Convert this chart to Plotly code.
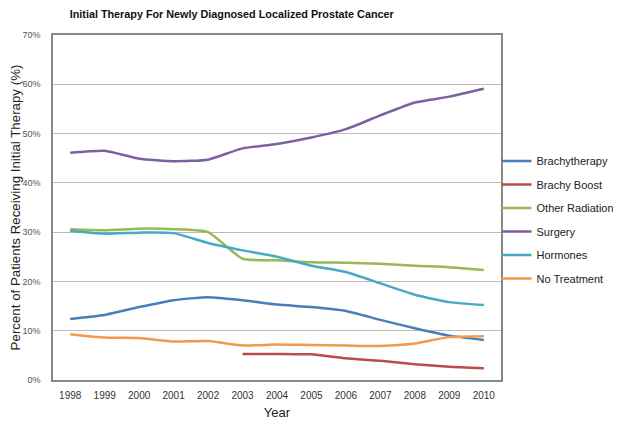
import plotly.graph_objects as go

years = ["1998", "1999", "2000", "2001", "2002", "2003", "2004", "2005", "2006", "2007", "2008", "2009", "2010"]
brachytherapy = [12.4, 13.2, 14.8, 16.2, 16.8, 16.2, 15.3, 14.8, 14.0, 12.2, 10.5, 9.0, 8.1]
brachy_boost = [None, None, None, None, None, 5.3, 5.3, 5.2, 4.4, 3.9, 3.2, 2.7, 2.4]
other_radiation = [30.6, 30.4, 30.7, 30.6, 30.0, 24.6, 24.3, 23.9, 23.8, 23.6, 23.2, 22.9, 22.3]
surgery = [46.1, 46.5, 44.9, 44.4, 44.7, 47.0, 47.9, 49.2, 50.9, 53.7, 56.3, 57.5, 59.1]
hormones = [30.3, 29.7, 29.9, 29.8, 27.8, 26.3, 25.0, 23.2, 21.9, 19.6, 17.3, 15.8, 15.2]
no_treatment = [9.3, 8.6, 8.5, 7.8, 7.9, 7.0, 7.2, 7.1, 7.0, 6.9, 7.4, 8.7, 8.9]

series = [
    ("Brachytherapy", brachytherapy, "#4A7EBB"),
    ("Brachy Boost", brachy_boost, "#BE4B48"),
    ("Other Radiation", other_radiation, "#98B954"),
    ("Surgery", surgery, "#7D60A0"),
    ("Hormones", hormones, "#46AAC5"),
    ("No Treatment", no_treatment, "#F39A4A"),
]

fig = go.Figure()
for name, vals, color in series:
    fig.add_trace(go.Scatter(
        x=years, y=vals, name=name, mode="lines", legendgroup=name,
        line=dict(color=color, width=2.5, shape="spline", smoothing=0.5),
        connectgaps=False,
    ))

fig.update_layout(
    width=613, height=418,
    margin=dict(l=45, r=120, t=27, b=46, autoexpand=False),
    paper_bgcolor="white", plot_bgcolor="white",
    font=dict(family="Liberation Sans, Arial, sans-serif", color="#333"),
    title=dict(text="<b>Initial Therapy For Newly Diagnosed Localized Prostate Cancer</b>",
               x=0.365, xanchor="center", y=0.984, yanchor="middle",
               font=dict(size=10.8, color="#111")),
    showlegend=True,
    legend=dict(x=0.99, xanchor="left", y=0.464, yanchor="middle",
                font=dict(size=11, color="#222"), itemwidth=30,
                tracegroupgap=4.5, bgcolor="rgba(0,0,0,0)"),
    xaxis=dict(type="category", range=[-0.5, 12.5], automargin=False,
               showline=True, linecolor="#888", linewidth=1.5, mirror=True,
               showgrid=False, ticks="", tickfont=dict(size=10, color="#333"),
               ticklabelstandoff=5,
               title=dict(text="Year", font=dict(size=13, color="#222"), standoff=8)),
    yaxis=dict(range=[0, 70], dtick=10, ticksuffix="%", automargin=False,
               showline=True, linecolor="#888", linewidth=1.5, mirror=True,
               showgrid=True, gridcolor="#BBBBBB", gridwidth=1, zeroline=False,
               ticks="", tickfont=dict(size=9, color="#555"), ticklabelstandoff=9,
               title=dict(text="Percent of Patients Receiving Initial Therapy (%)",
                          font=dict(size=13.3, color="#222"), standoff=4)),
)

fig.write_html("out.html")
